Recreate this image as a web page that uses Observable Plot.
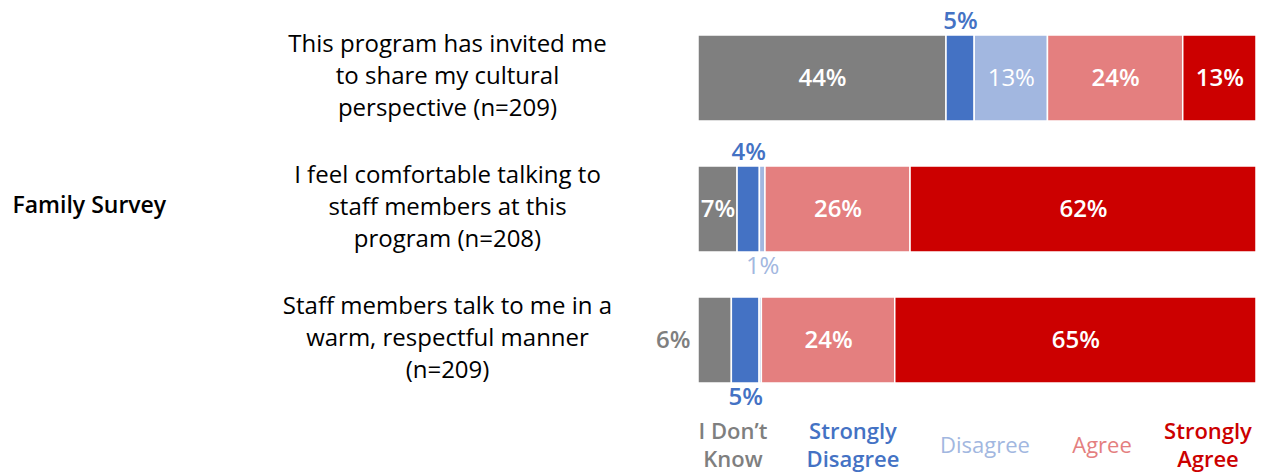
<!DOCTYPE html>
<html>
<head>
<meta charset="utf-8">
<script src="https://cdn.jsdelivr.net/npm/d3@7"></script>
<script src="https://cdn.jsdelivr.net/npm/@observablehq/plot@0.6"></script>
<style>
  html, body { margin: 0; padding: 0; background: #fff; }
  body { width: 1261px; height: 474px; overflow: hidden; font-family: "Open Sans", sans-serif; }
  #chart svg { display: block; }
  #legend { position: relative; width: 1261px; height: 60px; margin-top: -4px; }
  #legend div { position: absolute; top: 0; height: 64px; display: flex; align-items: center; justify-content: center;
    transform: translateX(-50%); text-align: center; font-size: 22px; line-height: 28px; white-space: nowrap; }
</style>
</head>
<body>
<div id="chart"></div>
<div id="legend"></div>
<script>
// ---- data ----
const questions = [
  "This program has invited me\nto share my cultural\nperspective (n=209)",
  "I feel comfortable talking to\nstaff members at this\nprogram (n=208)",
  "Staff members talk to me in a\nwarm, respectful manner\n(n=209)"
];
const categories = ["I Don't Know", "Strongly Disagree", "Disagree", "Agree", "Strongly Agree"];
const legendLabels = ["I Don’t\nKnow", "Strongly\nDisagree", "Disagree", "Agree", "Strongly\nAgree"];
const dontKnow = [44, 7, 6];
const stronglyDisagree = [5, 4, 5];
const disagree = [13, 1, 0.4];
const agree = [24, 26, 24];
const stronglyAgree = [13, 62, 65];
const colors = ["#7f7f7f", "#4472c4", "#a2b7e0", "#e47f7f", "#cc0000"];

// ---- styling config (label placement for thin segments) ----
const placement = { "0|1": "above", "1|1": "above", "1|2": "below", "2|0": "left", "2|1": "below" };
const boldCats = new Set(["I Don't Know", "Strongly Disagree", "Agree", "Strongly Agree"]);

const series = [dontKnow, stronglyDisagree, disagree, agree, stronglyAgree];
const table = [];
questions.forEach((q, qi) => {
  categories.forEach((c, ci) => {
    table.push({ question: q, qi, category: c, ci, value: series[ci][qi] });
  });
});
const placeOf = d => placement[d.qi + "|" + d.ci] || "inside";
const lbl = d => d.value >= 0.5 ? Math.round(d.value) + "%" : null;

function labels(place, bold, opts) {
  const stack = place === "left" ? Plot.stackX1 : Plot.stackX;
  return Plot.text(table, stack({
    x: "value", y: "question", offset: "normalize",
    text: d => (placeOf(d) === place && boldCats.has(d.category) === bold) ? lbl(d) : null,
    fontSize: 24, fontWeight: bold ? 600 : 400,
    ...opts
  }));
}

const plot = Plot.plot({
  width: 1261,
  height: 416,
  marginLeft: 698,
  marginRight: 5,
  marginTop: 34,
  marginBottom: 31,
  style: { fontFamily: "Open Sans, sans-serif", background: "white", overflow: "visible" },
  x: { axis: null, domain: [0, 1] },
  y: { axis: null, domain: questions, paddingInner: 0.34, paddingOuter: 0 },
  color: { domain: categories, range: colors },
  marks: [
    Plot.barX(table, Plot.stackX({
      x: "value", y: "question", fill: "category", offset: "normalize",
      stroke: "white", strokeWidth: 1.5
    })),
    labels("inside", true, { fill: "white" }),
    labels("inside", false, { fill: "white" }),
    labels("above", true, { fill: "category", dy: -57 }),
    labels("below", true, { fill: "category", dy: 57 }),
    labels("below", false, { fill: "category", dy: 57 }),
    labels("left", true, { fill: "category", textAnchor: "end", dx: -8 }),
    Plot.text(questions, {
      y: d => d, text: d => d, frameAnchor: "left", dx: -251, dy: -5,
      textAnchor: "middle", lineHeight: 1.34, fontSize: 24, fill: "#000"
    }),
    Plot.text(["Family Survey"], {
      text: d => d, frameAnchor: "left", dx: -686, dy: -4,
      textAnchor: "start", fontSize: 23, fontWeight: 600, fill: "#000"
    })
  ]
});
document.getElementById("chart").appendChild(plot);

// ---- legend (HTML, below the SVG) ----
const legendCenters = [733, 853, 985, 1102, 1208];
const legend = document.getElementById("legend");
categories.forEach((c, i) => {
  const el = document.createElement("div");
  el.style.left = legendCenters[i] + "px";
  el.style.color = colors[i];
  el.style.fontWeight = boldCats.has(c) && c !== "Agree" ? "600" : "400";
  el.innerHTML = legendLabels[i].split("\n").join("<br>");
  legend.appendChild(el);
});
</script>
</body>
</html>
